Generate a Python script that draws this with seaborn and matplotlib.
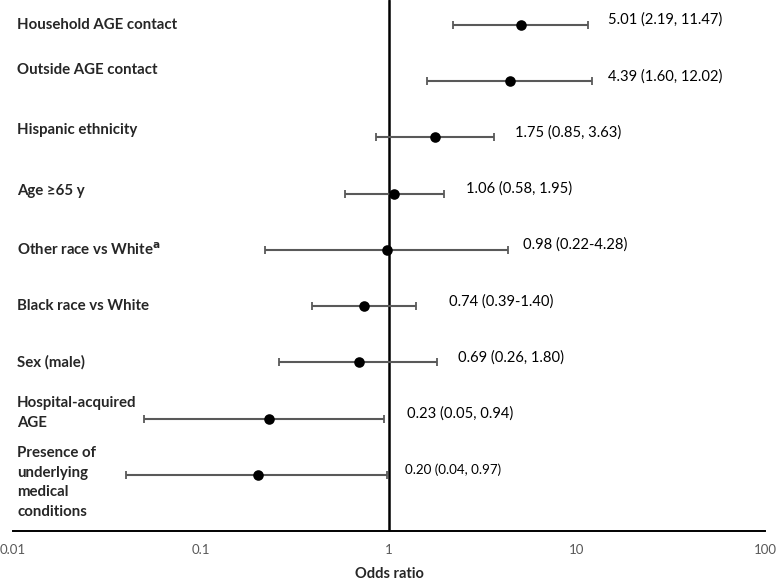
import numpy as np
import pandas as pd
import matplotlib
matplotlib.use("Agg")
import matplotlib.pyplot as plt
import matplotlib.transforms as mtransforms
import seaborn as sns

# === data ===
labels = [
    "Household AGE contact",
    "Outside AGE contact",
    "Hispanic ethnicity",
    "Age \u226565 y",
    r"Other race vs White$^{\mathbf{a}}$",
    "Black race vs White",
    "Sex (male)",
    "Hospital-acquired\nAGE",
    "Presence of\nunderlying\nmedical\nconditions",
]
odds = [5.01, 4.39, 1.75, 1.06, 0.98, 0.74, 0.69, 0.23, 0.20]
ci_low = [2.19, 1.60, 0.85, 0.58, 0.22, 0.39, 0.26, 0.05, 0.04]
ci_high = [11.47, 12.02, 3.63, 1.95, 4.28, 1.40, 1.80, 0.94, 0.97]
ci_text = [
    "5.01 (2.19, 11.47)",
    "4.39 (1.60, 12.02)",
    "1.75 (0.85, 3.63)",
    "1.06 (0.58, 1.95)",
    "0.98 (0.22-4.28)",
    "0.74 (0.39-1.40)",
    "0.69 (0.26, 1.80)",
    "0.23 (0.05, 0.94)",
    "0.20 (0.04, 0.97)",
]
tick_vals = [0.01, 0.1, 1, 10, 100]
tick_labels = ["0.01", "0.1", "1", "10", "100"]

df = pd.DataFrame({"label": labels, "odds": odds, "low": ci_low, "high": ci_high})
df["row"] = np.arange(len(df))

# layout: pixel offsets of the value text from the upper CI end,
# and small vertical nudges of the row labels (in rows)
text_dx = [20, 16, 21, 22, 15, 33, 21, 23, 18]
text_size = [10.6] * 8 + [9.6]
label_dy = [0, -0.2, -0.14, -0.05, 0, 0, 0, -0.1, 0.14]

# === plotting ===
sns.set_style("white")
plt.rcParams["font.family"] = ["Lato", "DejaVu Sans"]

fig = plt.figure(figsize=(7.77, 5.8), dpi=100)
ax = fig.add_axes([13 / 777, 49 / 580, 752 / 777, 531 / 580])

ax.errorbar(df["odds"], df["row"],
            xerr=[df["odds"] - df["low"], df["high"] - df["odds"]],
            fmt="none", ecolor="#595959", elinewidth=1.5, capsize=3, capthick=1.3,
            zorder=2)
sns.scatterplot(data=df, x="odds", y="row", color="black", s=58, edgecolor="black",
                linewidth=0, zorder=3, ax=ax, legend=False)

ax.axvline(1, color="black", linewidth=1.8, zorder=1)

ax.set_xscale("log")
ax.set_xlim(0.01, 100)
ax.set_ylim(9.0, -0.444)
ax.set_xticks(tick_vals)
ax.set_xticklabels(tick_labels, color="#595959", fontsize=9.5)
ax.minorticks_off()
ax.tick_params(axis="x", length=0, pad=9)
ax.set_yticks([])
ax.set_ylabel("")
ax.set_xlabel("Odds ratio", fontweight="bold", fontsize=10.5, labelpad=8)

for side in ["left", "right", "top"]:
    ax.spines[side].set_visible(False)
ax.spines["bottom"].set_color("black")
ax.spines["bottom"].set_linewidth(1.4)

# row labels on the left
trans = mtransforms.blended_transform_factory(fig.transFigure, ax.transData)
for i, lab in enumerate(labels):
    ax.text(17 / 777, i + label_dy[i], lab, transform=trans, ha="left", va="center",
            fontweight="bold", fontsize=10.8, linespacing=1.5)

# value text to the right of each CI
for i in range(len(df)):
    ax.annotate(ci_text[i], xy=(ci_high[i], i), xytext=(text_dx[i], 5),
                textcoords="offset pixels", ha="left", va="center",
                fontsize=text_size[i], color="black")

fig.savefig("out.png", dpi=100)
